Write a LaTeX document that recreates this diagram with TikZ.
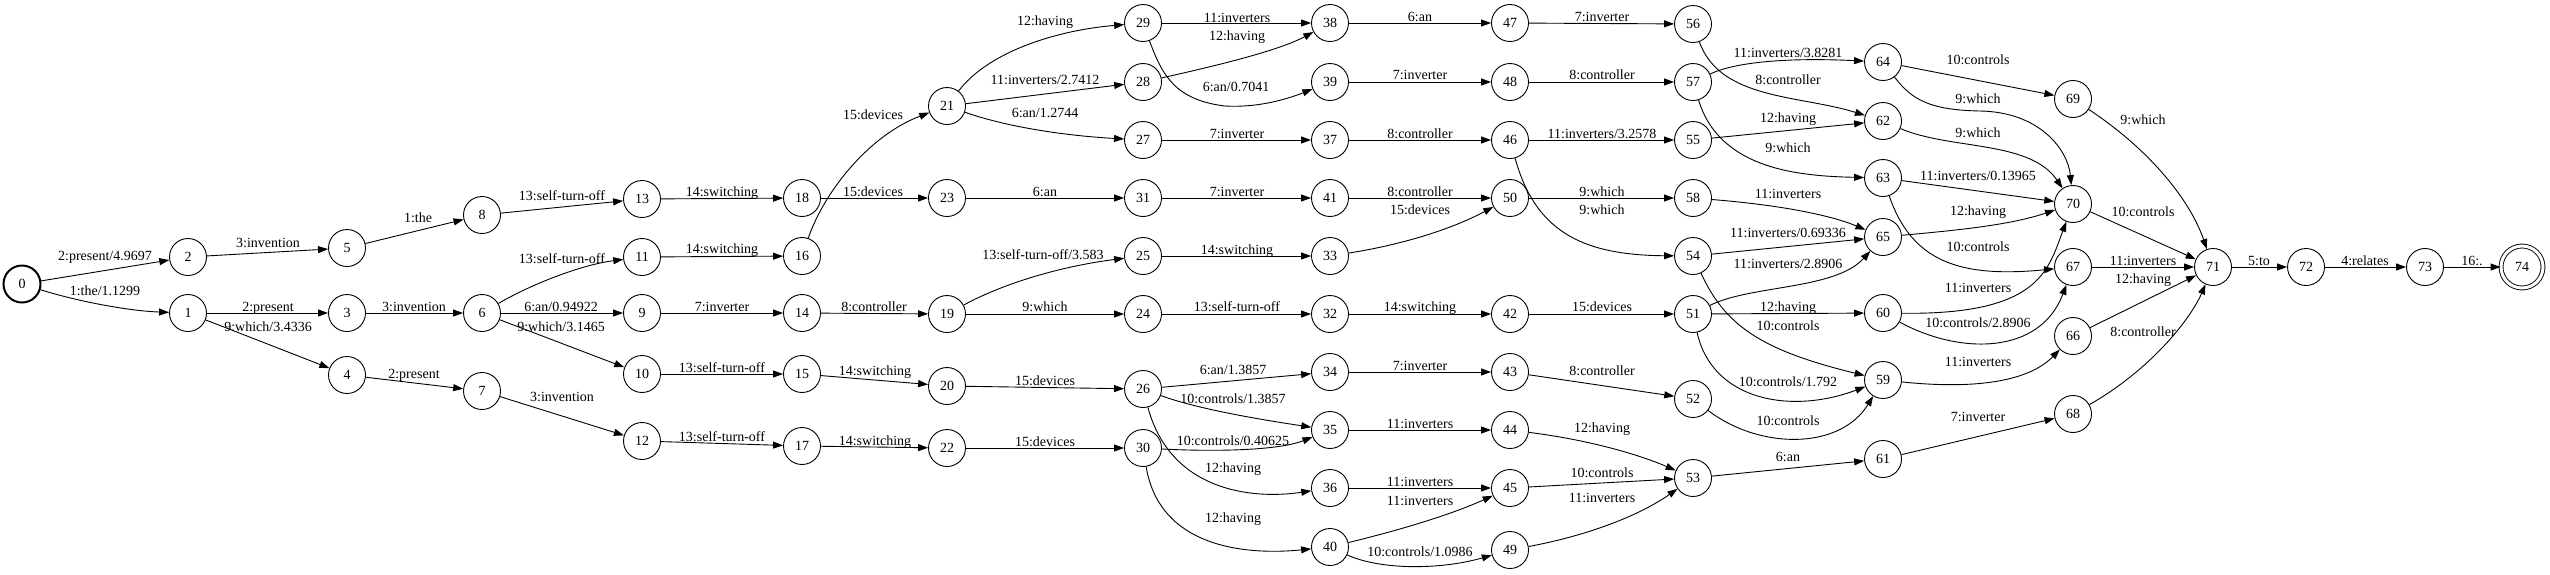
\documentclass[tikz,border=0pt]{standalone}
\usepackage{fontspec}
\setmainfont{Liberation Serif}
\usetikzlibrary{arrows.meta}
\begin{document}
\begin{tikzpicture}[x=1pt,y=-1pt,
  st/.style={circle,draw,line width=0.9pt,minimum size=37pt,inner sep=0pt,font=\fontsize{14}{16}\selectfont},
  ini/.style={st,line width=2pt},
  fin/.style={st,double,double distance=3pt,minimum size=42pt},
  ed/.style={line width=0.9pt,-{Triangle[length=10pt,width=7pt]}},
  lb/.style={inner sep=0pt,text height=10pt,text depth=0pt,font=\fontsize{14}{16}\selectfont}]
\useasboundingbox (0,0) rectangle (2550,574);
% states
\node[ini] (n0) at (22,284) {0};
\node[st] (n1) at (188,313) {1};
\node[st] (n2) at (188,257) {2};
\node[st] (n3) at (347,313) {3};
\node[st] (n4) at (347,375) {4};
\node[st] (n5) at (347,248) {5};
\node[st] (n6) at (482,313) {6};
\node[st] (n7) at (482,391) {7};
\node[st] (n8) at (482,215) {8};
\node[st] (n9) at (642,313) {9};
\node[st] (n10) at (642,374) {10};
\node[st] (n11) at (642,257) {11};
\node[st] (n12) at (642,441) {12};
\node[st] (n13) at (642,199) {13};
\node[st] (n14) at (802,313) {14};
\node[st] (n15) at (802,374) {15};
\node[st] (n16) at (802,256) {16};
\node[st] (n17) at (802,446) {17};
\node[st] (n18) at (802,198) {18};
\node[st] (n19) at (947,314) {19};
\node[st] (n20) at (947,386) {20};
\node[st] (n21) at (947,106) {21};
\node[st] (n22) at (947,448) {22};
\node[st] (n23) at (947,198) {23};
\node[st] (n24) at (1143,314) {24};
\node[st] (n25) at (1143,256) {25};
\node[st] (n26) at (1143,389) {26};
\node[st] (n27) at (1143,140) {27};
\node[st] (n28) at (1143,82) {28};
\node[st] (n29) at (1143,23) {29};
\node[st] (n30) at (1143,448) {30};
\node[st] (n31) at (1143,198) {31};
\node[st] (n32) at (1330,314) {32};
\node[st] (n33) at (1330,256) {33};
\node[st] (n34) at (1330,372) {34};
\node[st] (n35) at (1330,430) {35};
\node[st] (n36) at (1330,488) {36};
\node[st] (n37) at (1330,140) {37};
\node[st] (n38) at (1330,23) {38};
\node[st] (n39) at (1330,82) {39};
\node[st] (n40) at (1330,547) {40};
\node[st] (n41) at (1330,198) {41};
\node[st] (n42) at (1510,314) {42};
\node[st] (n43) at (1510,372) {43};
\node[st] (n44) at (1510,430) {44};
\node[st] (n45) at (1510,488) {45};
\node[st] (n46) at (1510,140) {46};
\node[st] (n47) at (1510,23) {47};
\node[st] (n48) at (1510,82) {48};
\node[st] (n49) at (1510,550) {49};
\node[st] (n50) at (1510,198) {50};
\node[st] (n51) at (1693,314) {51};
\node[st] (n52) at (1693,399) {52};
\node[st] (n53) at (1693,478) {53};
\node[st] (n54) at (1693,256) {54};
\node[st] (n55) at (1693,140) {55};
\node[st] (n56) at (1693,24) {56};
\node[st] (n57) at (1693,82) {57};
\node[st] (n58) at (1693,198) {58};
\node[st] (n59) at (1883,380) {59};
\node[st] (n60) at (1883,313) {60};
\node[st] (n61) at (1883,459) {61};
\node[st] (n62) at (1883,121) {62};
\node[st] (n63) at (1883,178) {63};
\node[st] (n64) at (1883,62) {64};
\node[st] (n65) at (1883,237) {65};
\node[st] (n66) at (2073,336) {66};
\node[st] (n67) at (2073,267) {67};
\node[st] (n68) at (2073,414) {68};
\node[st] (n69) at (2073,99) {69};
\node[st] (n70) at (2073,204) {70};
\node[st] (n71) at (2213,267) {71};
\node[st] (n72) at (2306,267) {72};
\node[st] (n73) at (2425,267) {73};
\node[fin] (n74) at (2522,267) {74};
% arcs
\draw[ed] (n0) -- (n2) node[lb] at (105,255) {2:present/4.9697};
\draw[ed] (n0) .. controls (80,302) and (130,311) .. (n1) node[lb] at (105,290) {1:the/1.1299};
\draw[ed] (n2) -- (n5) node[lb] at (268,242) {3:invention};
\draw[ed] (n5) -- (n8) node[lb] at (418,217) {1:the};
\draw[ed] (n1) -- (n3) node[lb] at (268,306) {2:present};
\draw[ed] (n1) -- (n4) node[lb] at (268,326) {9:which/3.4336};
\draw[ed] (n3) -- (n6) node[lb] at (414,306) {3:invention};
\draw[ed] (n4) -- (n7) node[lb] at (414,373) {2:present};
\draw[ed] (n8) -- (n13) node[lb] at (562,195) {13:self-turn-off};
\draw[ed] (n6) .. controls (530,285) and (580,265) .. (n11) node[lb] at (562,258) {13:self-turn-off};
\draw[ed] (n6) -- (n9) node[lb] at (561,306) {6:an/0.94922};
\draw[ed] (n6) -- (n10) node[lb] at (561,326) {9:which/3.1465};
\draw[ed] (n7) -- (n12) node[lb] at (562,396) {3:invention};
\draw[ed] (n13) -- (n18) node[lb] at (722,191) {14:switching};
\draw[ed] (n11) -- (n16) node[lb] at (722,248) {14:switching};
\draw[ed] (n9) -- (n14) node[lb] at (722,306) {7:inverter};
\draw[ed] (n10) -- (n15) node[lb] at (722,367) {13:self-turn-off};
\draw[ed] (n12) -- (n17) node[lb] at (722,436) {13:self-turn-off};
\draw[ed] (n18) -- (n23) node[lb] at (873,191) {15:devices};
\draw[ed] (n16) .. controls (825,190) and (870,135) .. (n21) node[lb] at (873,114) {15:devices};
\draw[ed] (n14) -- (n19) node[lb] at (874,306) {8:controller};
\draw[ed] (n15) -- (n20) node[lb] at (875,370) {14:switching};
\draw[ed] (n17) -- (n22) node[lb] at (875,440) {14:switching};
\draw[ed] (n21) .. controls (990,50) and (1060,30) .. (n29) node[lb] at (1045,20) {12:having};
\draw[ed] (n21) -- (n28) node[lb] at (1045,79) {11:inverters/2.7412};
\draw[ed] (n21) .. controls (1010,128) and (1070,136) .. (n27) node[lb] at (1045,112) {6:an/1.2744};
\draw[ed] (n23) -- (n31) node[lb] at (1045,191) {6:an};
\draw[ed] (n19) .. controls (1010,280) and (1070,265) .. (n25) node[lb] at (1043,254) {13:self-turn-off/3.583};
\draw[ed] (n19) -- (n24) node[lb] at (1045,306) {9:which};
\draw[ed] (n20) -- (n26) node[lb] at (1045,380) {15:devices};
\draw[ed] (n22) -- (n30) node[lb] at (1045,441) {15:devices};
\draw[ed] (n29) -- (n38) node[lb] at (1237,17) {11:inverters};
\draw[ed] (n28) .. controls (1220,65) and (1280,50) .. (n38) node[lb] at (1237,35) {12:having};
\draw[ed] (n29) .. controls (1162,75) and (1175,100) .. (1225,106) .. controls (1260,108) and (1290,98) .. (n39) node[lb] at (1236,86) {6:an/0.7041};
\draw[ed] (n27) -- (n37) node[lb] at (1237,133) {7:inverter};
\draw[ed] (n31) -- (n41) node[lb] at (1237,191) {7:inverter};
\draw[ed] (n25) -- (n33) node[lb] at (1237,249) {14:switching};
\draw[ed] (n24) -- (n32) node[lb] at (1237,306) {13:self-turn-off};
\draw[ed] (n26) -- (n34) node[lb] at (1233,369) {6:an/1.3857};
\draw[ed] (n26) .. controls (1200,410) and (1270,421) .. (n35) node[lb] at (1233,398) {10:controls/1.3857};
\draw[ed] (n30) .. controls (1220,452) and (1280,450) .. (n35) node[lb] at (1233,440) {10:controls/0.40625};
\draw[ed] (n26) .. controls (1170,490) and (1250,500) .. (n36) node[lb] at (1233,467) {12:having};
\draw[ed] (n30) .. controls (1160,550) and (1250,555) .. (n40) node[lb] at (1233,517) {12:having};
\draw[ed] (n38) -- (n47) node[lb] at (1420,16) {6:an};
\draw[ed] (n39) -- (n48) node[lb] at (1420,74) {7:inverter};
\draw[ed] (n37) -- (n46) node[lb] at (1420,133) {8:controller};
\draw[ed] (n41) -- (n50) node[lb] at (1420,191) {8:controller};
\draw[ed] (n33) .. controls (1400,245) and (1450,230) .. (n50) node[lb] at (1420,209) {15:devices};
\draw[ed] (n32) -- (n42) node[lb] at (1420,306) {14:switching};
\draw[ed] (n34) -- (n43) node[lb] at (1420,365) {7:inverter};
\draw[ed] (n35) -- (n44) node[lb] at (1420,423) {11:inverters};
\draw[ed] (n36) -- (n45) node[lb] at (1420,481) {11:inverters};
\draw[ed] (n40) .. controls (1400,530) and (1450,515) .. (n45) node[lb] at (1420,500) {11:inverters};
\draw[ed] (n40) .. controls (1380,570) and (1440,570) .. (n49) node[lb] at (1420,551) {10:controls/1.0986};
\draw[ed] (n47) -- (n56) node[lb] at (1602,16) {7:inverter};
\draw[ed] (n48) -- (n57) node[lb] at (1602,74) {8:controller};
\draw[ed] (n46) -- (n55) node[lb] at (1602,133) {11:inverters/3.2578};
\draw[ed] (n50) -- (n58) node[lb] at (1602,191) {9:which};
\draw[ed] (n46) .. controls (1535,230) and (1580,255) .. (n54) node[lb] at (1602,209) {9:which};
\draw[ed] (n42) -- (n51) node[lb] at (1602,306) {15:devices};
\draw[ed] (n43) -- (n52) node[lb] at (1602,370) {8:controller};
\draw[ed] (n44) .. controls (1590,440) and (1640,455) .. (n53) node[lb] at (1602,427) {12:having};
\draw[ed] (n45) -- (n53) node[lb] at (1602,472) {10:controls};
\draw[ed] (n49) .. controls (1590,535) and (1640,515) .. (n53) node[lb] at (1602,497) {11:inverters};
\draw[ed] (n57) .. controls (1740,60) and (1800,58) .. (n64) node[lb] at (1788,52) {11:inverters/3.8281};
\draw[ed] (n56) .. controls (1720,100) and (1800,95) .. (n62) node[lb] at (1788,79) {8:controller};
\draw[ed] (n55) -- (n62) node[lb] at (1788,117) {12:having};
\draw[ed] (n57) .. controls (1720,170) and (1800,176) .. (n63) node[lb] at (1788,147) {9:which};
\draw[ed] (n58) .. controls (1780,205) and (1830,215) .. (n65) node[lb] at (1788,193) {11:inverters};
\draw[ed] (n54) -- (n65) node[lb] at (1788,232) {11:inverters/0.69336};
\draw[ed] (n51) .. controls (1750,285) and (1835,290) .. (n65) node[lb] at (1788,263) {11:inverters/2.8906};
\draw[ed] (n51) -- (n60) node[lb] at (1788,306) {12:having};
\draw[ed] (n54) .. controls (1725,325) and (1760,350) .. (n59) node[lb] at (1788,325) {10:controls};
\draw[ed] (n51) .. controls (1712,400) and (1790,415) .. (n59) node[lb] at (1788,381) {10:controls/1.792};
\draw[ed] (n52) .. controls (1760,450) and (1840,450) .. (n59) node[lb] at (1788,420) {10:controls};
\draw[ed] (n53) -- (n61) node[lb] at (1788,456) {6:an};
\draw[ed] (n64) -- (n69) node[lb] at (1978,59) {10:controls};
\draw[ed] (n64) .. controls (1912,100) and (1930,110) .. (1980,111) .. controls (2040,112) and (2068,150) .. (n70) node[lb] at (1978,98) {9:which};
\draw[ed] (n62) .. controls (1950,150) and (2030,140) .. (n70) node[lb] at (1978,132) {9:which};
\draw[ed] (n63) -- (n70) node[lb] at (1978,175) {11:inverters/0.13965};
\draw[ed] (n65) .. controls (1960,230) and (2010,225) .. (n70) node[lb] at (1978,210) {12:having};
\draw[ed] (n63) .. controls (1912,262) and (1960,278) .. (n67) node[lb] at (1978,246) {10:controls};
\draw[ed] (n60) .. controls (2040,315) and (2048,270) .. (n70) node[lb] at (1978,287) {11:inverters};
\draw[ed] (n60) .. controls (1960,355) and (2040,355) .. (n67) node[lb] at (1978,322) {10:controls/2.8906};
\draw[ed] (n59) .. controls (1980,390) and (2030,380) .. (n66) node[lb] at (1978,361) {11:inverters};
\draw[ed] (n61) -- (n68) node[lb] at (1978,416) {7:inverter};
\draw[ed] (n69) .. controls (2150,150) and (2190,200) .. (n71) node[lb] at (2143,119) {9:which};
\draw[ed] (n70) -- (n71) node[lb] at (2143,211) {10:controls};
\draw[ed] (n67) -- (n71) node[lb] at (2143,260) {11:inverters};
\draw[ed] (n66) -- (n71) node[lb] at (2143,278) {12:having};
\draw[ed] (n68) .. controls (2150,370) and (2190,320) .. (n71) node[lb] at (2143,331) {8:controller};
\draw[ed] (n71) -- (n72) node[lb] at (2259,260) {5:to};
\draw[ed] (n72) -- (n73) node[lb] at (2365,260) {4:relates};
\draw[ed] (n73) -- (n74) node[lb] at (2472,260) {16:.};
\end{tikzpicture}
\end{document}
